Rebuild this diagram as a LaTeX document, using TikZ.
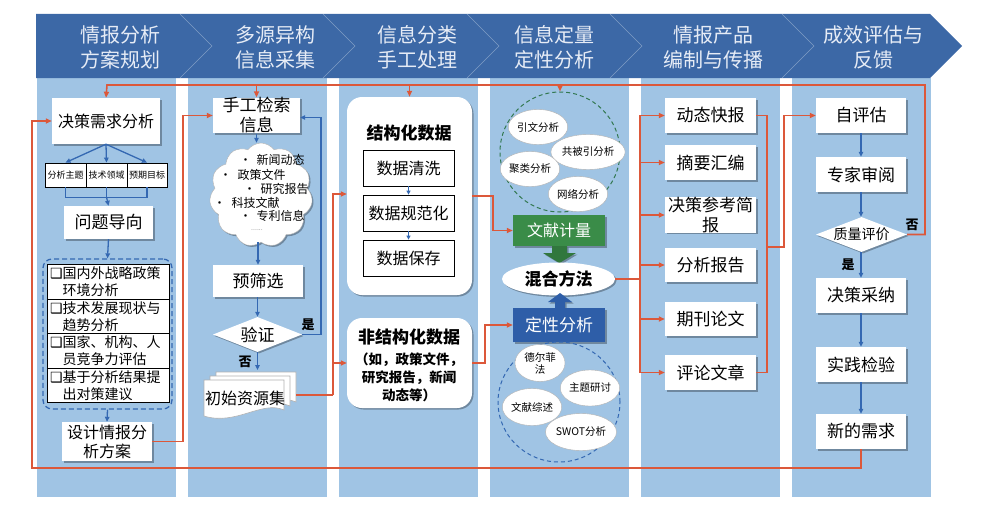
\documentclass[tikz,border=0pt]{standalone}
\usepackage{fontspec}
\setmainfont{Noto Sans CJK SC}
\newfontfamily\symf{DejaVu Sans}
\usetikzlibrary{shapes.geometric,shapes.symbols,arrows.meta,shadows,calc}
\definecolor{bgblue}{RGB}{160,196,228}
\definecolor{banner}{RGB}{60,104,166}
\definecolor{hdrtext}{RGB}{230,236,246}
\definecolor{ored}{RGB}{220,88,58}
\definecolor{ablue}{RGB}{52,104,178}
\definecolor{fgreen}{RGB}{58,140,72}
\definecolor{qblue}{RGB}{46,94,168}
\definecolor{dgreen}{RGB}{50,120,80}
\newcommand\fsz[2]{\fontsize{#1}{#2}\selectfont}
\begin{document}
\begin{tikzpicture}[x=1pt,y=-1pt,
  shd/.style={drop shadow={shadow xshift=1.5pt,shadow yshift=-1.5pt,opacity=0.3,fill=black}},
  wbox/.style={fill=white,draw=none,inner sep=0pt,align=center,shd,font=\fsz{17}{20}},
  sbox/.style={fill=white,draw=black,line width=0.8pt,inner sep=0pt,align=center},
  ibox/.style={fill=white,draw=black,line width=0.8pt,inner sep=2pt,align=left,minimum width=122,minimum height=34.5,text width=116,font=\fsz{14}{17}},
  rbox/.style={fill=white,draw=none,rounded corners=15pt,shd},
  sell/.style={ellipse,draw=gray!60,fill=white,inner sep=0pt,align=center,font=\fsz{10.5}{12}},
  hdr/.style={text=hdrtext,align=center,font=\fsz{20}{25}},
  oline/.style={draw=ored,line width=1.6pt},
  oarrow/.style={oline,-{Triangle[length=6pt,width=5pt]}},
  bline/.style={draw=ablue,line width=1.3pt},
  barrow/.style={bline,-{Triangle[length=5pt,width=4.5pt]}},
  lbl/.style={font=\bfseries\fsz{13}{15}}
]
\useasboundingbox (0,0) rectangle (984,519);
% columns
\foreach \cx in {37,188,339,490,641,792}{
  \fill[bgblue] (\cx,78) rectangle (\cx+139,497);
}
% banner
\fill[banner] (36,14) -- (930,14) -- (962,46) -- (930,78) -- (36,78) -- cycle;
\foreach \sx in {180,323,467,610,782}{
  \draw[white,opacity=0.35,line width=0.6pt] (\sx,14) -- (\sx+32,46) -- (\sx,78);
}
\node[hdr] (h1) at (120,47) {情报分析\\方案规划};
\node[hdr] (h2) at (275,47) {多源异构\\信息采集};
\node[hdr] (h3) at (417,47) {信息分类\\手工处理};
\node[hdr] (h4) at (554,47) {信息定量\\定性分析};
\node[hdr] (h5) at (713,47) {情报产品\\编制与传播};
\node[hdr] (h6) at (873,47) {成效评估与\\反馈};

% ---------- column 1
\node[wbox,minimum width=108,minimum height=46,font=\fsz{16}{19}] (jcxq) at (106,121) {决策需求分析};
\node[sbox,minimum width=41,minimum height=24,font=\fsz{9}{10}] (t1) at (65.5,175) {分析主题};
\node[sbox,minimum width=41,minimum height=24,font=\fsz{9}{10}] (t2) at (106.5,175) {技术领域};
\node[sbox,minimum width=40,minimum height=24,font=\fsz{9}{10}] (t3) at (147,175) {预期目标};
\draw[barrow] (jcxq.south) -- (t1.north);
\draw[barrow] (jcxq.south) -- (t2.north);
\draw[barrow] (jcxq.south) -- (t3.north);
\node[wbox,minimum width=89,minimum height=33] (wtdx) at (108.5,222.5) {问题导向};
\draw[bline] (t1.south) -- ++(0,10) -| (t3.south);
\draw[barrow] (t2.south |- 0,197) -- (wtdx.north);
\draw[bline] (t2.south) -- (t2.south |- 0,197);
\node[draw=ablue,dashed,dash pattern=on 5pt off 3pt,line width=1.3pt,rounded corners=9pt,minimum width=129,minimum height=150,inner sep=0pt] (dsh) at (107.5,334) {};
\draw[barrow] (wtdx.south) -- (dsh.north);
\node[ibox] (i1) at (108,282) {{\symf\bfseries ❑}国内外战略政策\\\phantom{\symf\bfseries ❑}环境分析};
\node[ibox] (i2) at (108,316.5) {{\symf\bfseries ❑}技术发展现状与\\\phantom{\symf\bfseries ❑}趋势分析};
\node[ibox] (i3) at (108,351) {{\symf\bfseries ❑}国家、机构、人\\\phantom{\symf\bfseries ❑}员竞争力评估};
\node[ibox] (i4) at (108,385.5) {{\symf\bfseries ❑}基于分析结果提\\\phantom{\symf\bfseries ❑}出对策建议};
\node[wbox,minimum width=90,minimum height=39,font=\fsz{16}{19}] (sjfa) at (107,441.5) {设计情报分\\析方案};
\draw[barrow] (dsh.south) -- (sjfa.north);

% ---------- column 2
\node[wbox,minimum width=87,minimum height=35] (sgjs) at (256.5,115.5) {手工检索\\信息};
\node[cloud,cloud puffs=11,cloud puff arc=110,cloud ignores aspect,draw=gray!60,fill=white,shd,minimum width=103,minimum height=104,inner sep=0pt] (cld) at (261,195) {};
\draw[barrow] (sgjs.south) -- (cld.north -| sgjs.south);
\node[anchor=west,font=\fsz{12}{14}] (c1) at (236,160) {•\hspace{5pt}新闻动态};
\node[anchor=west,font=\fsz{12}{14}] (c2) at (216,175) {•\hspace{6pt}政策文件};
\node[anchor=west,font=\fsz{12}{14}] (c3) at (240,188.5) {•\hspace{5pt}研究报告};
\node[anchor=west,font=\fsz{12}{14}] (c4) at (210,203) {•\hspace{6pt}科技文献};
\node[anchor=west,font=\fsz{12}{14}] (c5) at (236,216) {•\hspace{5pt}专利信息};
\node[font=\fsz{7}{8},text=gray,inner sep=0pt] (c6) at (257,230) {......};
\node[wbox,minimum width=90,minimum height=32] (ysx) at (258,281) {预筛选};
\draw[barrow] (cld.south -| ysx.north) -- (ysx.north);
\node[diamond,fill=white,shd,minimum width=89,minimum height=35,inner sep=0pt,aspect=2.5,font=\fsz{17}{20}] (yz) at (257.5,334.5) {验证};
\draw[barrow] (ysx.south -| yz.north) -- (yz.north);
\node[lbl] (yzs) at (308,325) {是};
\node[lbl] (yzf) at (245,362) {否};
\draw[barrow] (yz.east) -- (321,334.5) |- ([yshift=-2pt]sgjs.east);
\foreach \dx/\dy in {12/-8,6/-4,0/0}{
  \draw[gray!60,fill=white,line width=0.6pt] (204+\dx,380+\dy) -- (284+\dx,380+\dy) -- (284+\dx,410+\dy) .. controls (262+\dx,400+\dy) and (236+\dx,426+\dy) .. (204+\dx,416+\dy) -- cycle;
}
\node[font=\fsz{16}{19}] (zyj) at (245,398) {初始资源集};
\draw[barrow] (yz.south) -- (yz.south |- 0,370);
\coordinate (docR) at (296,395);

% ---------- column 3
\node[rbox,minimum width=125,minimum height=198] (jgh) at (409.5,196) {};
\node[font=\bfseries\fsz{17}{20}] (jght) at (409,133) {结构化数据};
\node[sbox,minimum width=91,minimum height=36,font=\fsz{16}{19}] (d1) at (408.5,168) {数据清洗};
\node[sbox,minimum width=91,minimum height=36,font=\fsz{16}{19}] (d2) at (408.5,213) {数据规范化};
\node[sbox,minimum width=91,minimum height=36,font=\fsz{16}{19}] (d3) at (408.5,258) {数据保存};
\draw[bline,-{Triangle[length=4pt,width=4pt]},line width=1pt] (d1.south) -- (d2.north);
\draw[bline,-{Triangle[length=4pt,width=4pt]},line width=1pt] (d2.south) -- (d3.north);
\node[rbox,minimum width=125,minimum height=90] (fjg) at (409.5,363) {};
\node[font=\bfseries\fsz{17}{20}] (fjgt) at (409,337) {非结构化数据};
\node[font=\bfseries\fsz{13.5}{18},align=center] (fjgb) at (409,377) {（如，政策文件，\\研究报告，新闻\\动态等）};
\draw[oline] (docR) -- ++(37,0) coordinate (split);
\draw[oarrow] (split) |- ([yshift=2pt]jgh.west);
\draw[oarrow] (split) |- (fjg.west);

% ---------- column 4
\node[circle,draw=dgreen,dashed,dash pattern=on 4pt off 3pt,line width=1pt,minimum size=120,inner sep=0pt] (gc) at (560,152) {};
\node[sell,minimum width=50,minimum height=35] (e1) at (538,127) {引文分析};
\node[sell,minimum width=56,minimum height=35] (e2) at (588,152) {共被引分析};
\node[sell,minimum width=51,minimum height=35] (e3) at (530,169) {聚类分析};
\node[sell,minimum width=50,minimum height=35] (e4) at (578,194) {网络分析};
\node[fill=fgreen,text=white,minimum width=92,minimum height=31,inner sep=0pt,shd,font=\fsz{16}{19}] (wxjl) at (559,230.5) {文献计量};
\fill[fgreen!85!black,shd] (552,246) -- (567,246) -- (567,253) -- (576,253) -- (559.5,263) -- (543,253) -- (552,253) -- cycle;
\node[ellipse,fill=white,shd,minimum width=113,minimum height=33,inner sep=0pt,font=\bfseries\fsz{17}{20}] (hhff) at (558.5,279) {混合方法};
\fill[qblue,shd] (555,308) -- (565,308) -- (565,302) -- (572,302) -- (560,293) -- (548,302) -- (555,302) -- cycle;
\node[fill=qblue,text=white,minimum width=92,minimum height=34,inner sep=0pt,shd,font=\fsz{17}{20}] (dxfx) at (559,325) {定性分析};
\node[ellipse,draw=ablue,dashed,dash pattern=on 4pt off 3pt,line width=1pt,minimum width=122,minimum height=120,inner sep=0pt] (qe) at (559,402) {};
\node[sell,minimum width=50,minimum height=37] (f1) at (540,363) {德尔菲\\法};
\node[sell,minimum width=50,minimum height=36] (f2) at (590,388) {主题研讨};
\node[sell,minimum width=50,minimum height=37] (f3) at (532,407) {文献综述};
\node[sell,minimum width=52,minimum height=37] (f4) at (581,432) {SWOT分析};
\draw[oarrow] (jgh.east |- 0,196) -- (493,196) |- (wxjl.west);
\draw[oarrow] (fjg.east) -- (485,363) |- (dxfx.west);

% ---------- column 5
\node[wbox,minimum width=91,minimum height=35] (p1) at (710.5,115.5) {动态快报};
\node[wbox,minimum width=91,minimum height=35] (p2) at (710.5,162.5) {摘要汇编};
\node[wbox,minimum width=91,minimum height=34] (p3) at (710.5,215) {决策参考简\\报};
\node[wbox,minimum width=91,minimum height=34] (p4) at (710.5,265) {分析报告};
\node[wbox,minimum width=91,minimum height=34] (p5) at (710.5,319) {期刊论文};
\node[wbox,minimum width=91,minimum height=35] (p6) at (710.5,372.5) {评论文章};
\draw[oline] (hhff.east) -- (640,279) coordinate (br5);
\foreach \p in {p1,p2,p3,p4,p5,p6}{
  \draw[oarrow] (br5) |- (\p.west);
}
\coordinate (rb) at (767,247);
\draw[oline] (p1.east) -| (rb) |- (p6.east);

% ---------- column 6
\node[wbox,minimum width=90,minimum height=35] (zpg) at (861,115.5) {自评估};
\node[wbox,minimum width=90,minimum height=35] (zjsy) at (861,174.5) {专家审阅};
\node[diamond,fill=white,shd,minimum width=91,minimum height=35,inner sep=0pt,aspect=2.6,font=\fsz{14}{16}] (zlpj) at (861.5,234.5) {质量评价};
\node[wbox,minimum width=90,minimum height=35] (cjcn) at (861,295.5) {决策采纳};
\node[wbox,minimum width=90,minimum height=35] (sjjy) at (861,364.5) {实践检验};
\node[wbox,minimum width=90,minimum height=35] (xdxq) at (861,431.5) {新的需求};
\draw[barrow] (zpg.south) -- (zjsy.north);
\draw[barrow] (zjsy.south) -- (zlpj.north -| zjsy.south);
\draw[barrow] (zlpj.south -| cjcn.north) -- (cjcn.north);
\draw[barrow] (cjcn.south) -- (sjjy.north);
\draw[barrow] (sjjy.south) -- (xdxq.north);
\node[lbl] (zlf) at (912,225) {否};
\node[lbl] (zls) at (848,265) {是};
\draw[oarrow] (rb) -- (784,247) |- (zpg.west);

% ---------- feedback loops
\coordinate (topL) at (107,85);
\draw[oarrow] (zlpj.east) -- (925,234.5) |- (topL) -- (jcxq.north);
\draw[oarrow] (sgjs.north |- topL) -- (sgjs.north);
\draw[oarrow] (jgh.north |- topL) -- (jgh.north);
\draw[oarrow] (gc.north |- topL) -- (gc.north);
\draw[oarrow] (xdxq.south) |- (32,468) |- (jcxq.west);
\draw[oarrow] (sjfa.east) -- (183,441.5) |- (sgjs.west);
\end{tikzpicture}
\end{document}
